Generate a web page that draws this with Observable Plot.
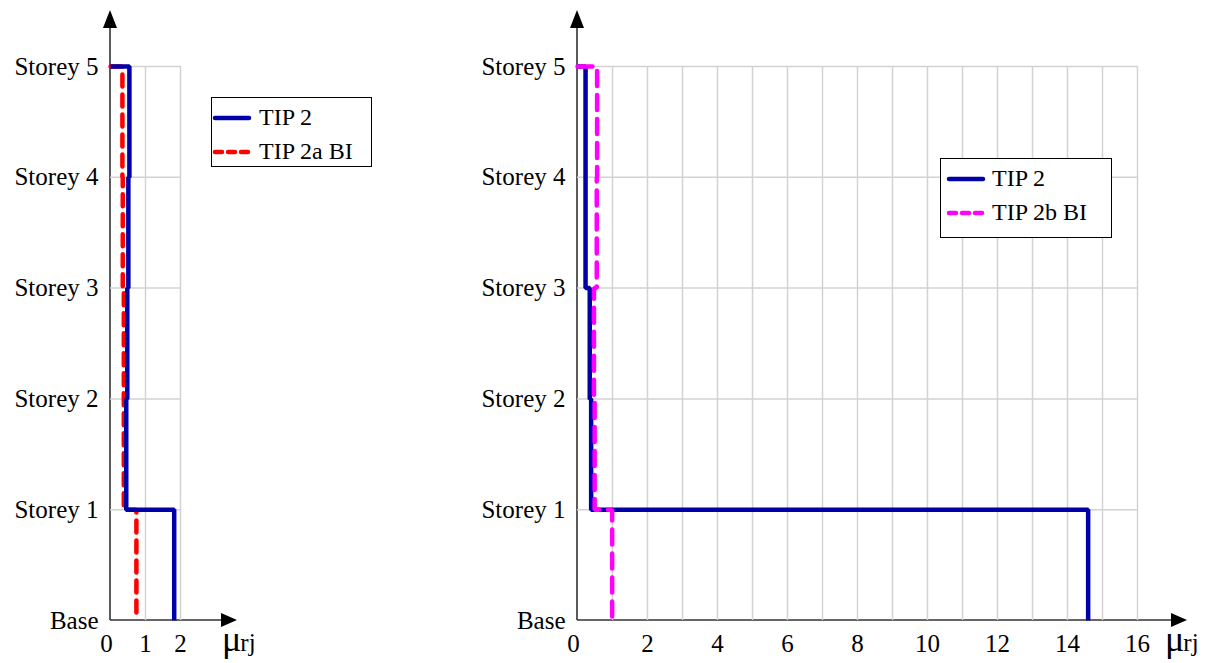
<!DOCTYPE html>
<html>
<head>
<meta charset="utf-8">
<script src="https://cdn.jsdelivr.net/npm/d3@7"></script>
<script src="https://cdn.jsdelivr.net/npm/@observablehq/plot@0.6"></script>
<style>
  html, body { margin: 0; padding: 0; background: #fff; }
  #wrap { position: relative; width: 1212px; height: 663px; overflow: hidden; font-family: "Liberation Serif", serif; }
  #wrap > svg { position: absolute; top: 0; }
  #wrap svg, #wrap text, #wrap tspan { font-family: "Liberation Serif", serif !important; }
  .legend { position: absolute; background: #fff; border: 1px solid #000; box-sizing: border-box; }
  .legend svg { position: absolute; left: 0; top: 0; }
  .legend .lab { position: absolute; font-family: "Liberation Serif", serif; font-size: 24px; line-height: 24px; color: #000; white-space: nowrap; }
</style>
</head>
<body>
<div id="wrap"></div>
<script>
// ---- data ----
const storeyLabels = ["Base", "Storey 1", "Storey 2", "Storey 3", "Storey 4", "Storey 5"];
const storeyLevels = [1, 2, 3, 4, 5];
const yTicks = [0, 1, 2, 3, 4, 5];

// values for Storey 1..5 (index 0 = Storey 1)
const tip2Left   = [1.82, 0.45, 0.48, 0.51, 0.54];
const tip2aBI    = [0.74, 0.38, 0.38, 0.35, 0.34];
const tip2Right  = [14.59, 0.39, 0.35, 0.23, 0.23];
const tip2bBI    = [0.99, 0.49, 0.47, 0.55, 0.56];

const xTicksLeft  = [0, 1, 2];
const xGridLeft   = [1, 2];
const xTicksRight = [0, 2, 4, 6, 8, 10, 12, 14, 16];
const xGridRight  = [1, 2, 3, 4, 5, 6, 7, 8, 9, 10, 11, 12, 13, 14, 15, 16];

const legendLeft  = ["TIP 2", "TIP 2a BI"];
const legendRight = ["TIP 2", "TIP 2b BI"];

const BLUE = "#0000A8", RED = "#FF0000", MAGENTA = "#FF00FF";
const FONT = '"Liberation Serif", serif';

// build storey profile (step line) from per-storey values
function profile(vals) {
  const pts = [{x: 0, y: 5}];
  for (let k = 5; k >= 1; k--) {
    const v = vals[k - 1];
    pts.push({x: v, y: k}, {x: v, y: k - 1});
  }
  return pts;
}

function makeChart({width, marginLeft, marginRight, xMax, xTicks, xGrid, series}) {
  return Plot.plot({
    width, height: 663,
    marginTop: 66, marginBottom: 43, marginLeft, marginRight,
    style: {fontFamily: FONT, fontSize: "25px", color: "#000", background: "transparent", overflow: "visible"},
    x: {domain: [0, xMax]},
    y: {domain: [0, 5]},
    marks: [
      Plot.ruleX(xGrid, {stroke: "#d2d2d2", strokeWidth: 1.5}),
      Plot.ruleY(storeyLevels, {stroke: "#d2d2d2", strokeWidth: 1.5}),
      Plot.axisX(xTicks.filter(d => d === 0), {tickFormat: d => String(d), tickSize: 0, tickPadding: 14, dx: -4, label: null}),
      Plot.axisX(xTicks.filter(d => d !== 0), {tickFormat: d => String(d), tickSize: 0, tickPadding: 14, label: null}),
      Plot.axisY({ticks: yTicks, tickFormat: d => storeyLabels[d], tickSize: 0, tickPadding: 12, label: null}),
      ...series.map(s => Plot.line(profile(s.values), {
        x: "x", y: "y", stroke: s.color, strokeWidth: 4.5,
        strokeDasharray: s.dash, strokeLinecap: s.dash ? "round" : "butt", strokeLinejoin: "miter"
      }))
    ]
  });
}

function decorate(chart, extendX, muOffset) {
  const x = chart.scale("x"), y = chart.scale("y");
  const ox = x.apply(0), oy = y.apply(0);
  const xEnd = x.apply(x.domain[1]) + extendX;
  const yEnd = 10;
  const svg = d3.select(chart);
  const g = svg.insert("g", ":first-child");
  g.append("line").attr("x1", ox).attr("y1", oy).attr("x2", ox).attr("y2", yEnd + 10)
    .attr("stroke", "#333").attr("stroke-width", 1.6);
  g.append("line").attr("x1", ox).attr("y1", oy).attr("x2", xEnd - 10).attr("y2", oy)
    .attr("stroke", "#333").attr("stroke-width", 1.6);
  g.append("polygon").attr("points", `${ox - 7},${yEnd + 18} ${ox + 7},${yEnd + 18} ${ox},${yEnd}`).attr("fill", "#000");
  g.append("polygon").attr("points", `${xEnd - 16},${oy - 7} ${xEnd - 16},${oy + 7} ${xEnd},${oy}`).attr("fill", "#000");
  const t = svg.append("text").attr("x", xEnd - muOffset).attr("y", 651)
    .attr("text-anchor", "start").attr("fill", "#000");
  t.append("tspan").attr("font-size", 36).text("μ");
  t.append("tspan").attr("font-size", 25).attr("dx", -1).text("rj");
}

function legend(parent, {left, top, width, height, items}) {
  const div = document.createElement("div");
  div.className = "legend";
  Object.assign(div.style, {left: left + "px", top: top + "px", width: width + "px", height: height + "px"});
  const s = d3.select(div).append("svg").attr("width", width).attr("height", height);
  items.forEach((it, i) => {
    const yy = 20 + i * 34;
    s.append("line").attr("x1", it.lx).attr("x2", it.lx + 34).attr("y1", yy).attr("y2", yy)
      .attr("stroke", it.color).attr("stroke-width", 4.5).attr("stroke-linecap", "round")
      .attr("stroke-dasharray", it.dash ? it.legendDash : null);
    d3.select(div).append("div").attr("class", "lab")
      .style("left", it.tx + "px").style("top", (yy - 13) + "px").text(it.label);
  });
  parent.appendChild(div);
}

const wrap = document.getElementById("wrap");

const left = makeChart({
  width: 440, marginLeft: 110, marginRight: 260, xMax: 2,
  xTicks: xTicksLeft, xGrid: xGridLeft,
  series: [
    {values: tip2aBI, color: RED, dash: "12,8"},
    {values: tip2Left, color: BLUE}
  ]
});
left.style.left = "0px";
wrap.appendChild(left);
decorate(left, 57, 15);

const right = makeChart({
  width: 772, marginLeft: 137, marginRight: 75, xMax: 16,
  xTicks: xTicksRight, xGrid: xGridRight,
  series: [
    {values: tip2Right, color: BLUE},
    {values: tip2bBI, color: MAGENTA, dash: "15,9"}
  ]
});
right.style.left = "440px";
wrap.appendChild(right);
decorate(right, 50, 22);

legend(wrap, {left: 211, top: 97, width: 161, height: 70, items: [
  {label: legendLeft[0], color: BLUE, lx: 3, tx: 47},
  {label: legendLeft[1], color: RED, dash: true, legendDash: "7,6", lx: 3, tx: 47}
]});
legend(wrap, {left: 940, top: 158, width: 172, height: 80, items: [
  {label: legendRight[0], color: BLUE, lx: 8, tx: 51},
  {label: legendRight[1], color: MAGENTA, dash: true, legendDash: "7,6", lx: 8, tx: 51}
]});

// make sure every svg text uses the serif face
d3.selectAll("#wrap text, #wrap tspan").style("font-family", FONT);
</script>
</body>
</html>
